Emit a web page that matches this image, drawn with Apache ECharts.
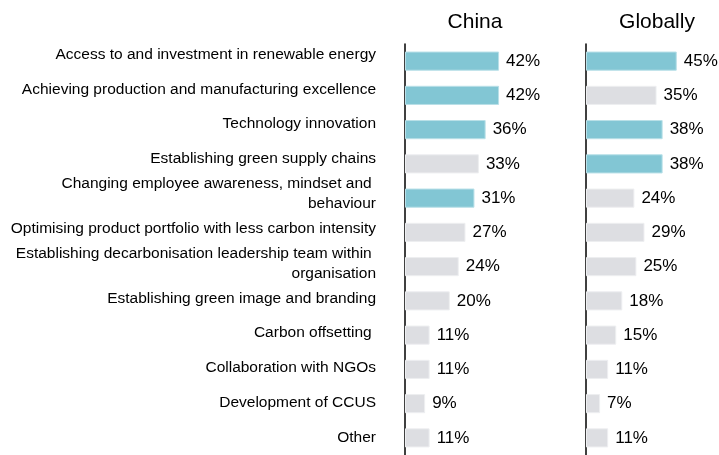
<!DOCTYPE html>
<html lang="en">
<head>
    <meta charset="UTF-8">
    <title>Decarbonisation levers</title>
    <script src="https://cdn.jsdelivr.net/npm/echarts@6/dist/echarts.min.js"></script>
    <style>
        html, body {margin: 0; padding: 0; background: #fff;}
        #chart {width: 719px; height: 455px;}
    </style>
</head>
<body>
<div id="chart"></div>
<script>
    // categories, top to bottom
    const categories = [
        'Access to and investment in renewable energy',
        'Achieving production and manufacturing excellence',
        'Technology innovation',
        'Establishing green supply chains',
        'Changing employee awareness, mindset and \nbehaviour',
        'Optimising product portfolio with less carbon intensity',
        'Establishing decarbonisation leadership team within \norganisation',
        'Establishing green image and branding',
        'Carbon offsetting ',
        'Collaboration with NGOs',
        'Development of CCUS',
        'Other'
    ]
    const chinaValues = [42, 42, 36, 33, 31, 27, 24, 20, 11, 11, 9, 11]
    const globalValues = [45, 35, 38, 38, 24, 29, 25, 18, 15, 11, 7, 11]
    // which rows are highlighted in each panel
    const chinaHighlight = [0, 1, 2, 4]
    const globalHighlight = [0, 2, 3]

    const TEAL = '#82c6d4'
    const GREY = '#dddee2'

    function toBars(values, highlight) {
        return values.map((v, i) => ({
            value: v,
            itemStyle: {
                color: highlight.includes(i) ? TEAL : GREY,
                borderColor: highlight.includes(i) ? '#b9e0e8' : '#eeeff1',
                borderWidth: 1
            }
        }))
    }

    const font = 'Liberation Sans, Arial, sans-serif'

    const valueAxis = (idx, max) => ({
        type: 'value', gridIndex: idx, min: 0, max: max,
        show: false
    })
    const catAxis = (idx) => ({
        type: 'category', gridIndex: idx, data: categories, inverse: true,
        axisLine: {show: true, lineStyle: {color: '#000', width: 1.5}},
        axisTick: {show: false},
        axisLabel: {show: false}
    })

    const chart = echarts.init(document.getElementById('chart'), null, {renderer: 'canvas'})
    const option = {
        animation: false,
        textStyle: {fontFamily: font},
        graphic: [
            {type: 'text', x: 475, y: 22, style: {text: 'China', fill: '#000', font: '21px ' + font, textAlign: 'center', textVerticalAlign: 'middle'}},
            {type: 'text', x: 657, y: 22, style: {text: 'Globally', fill: '#000', font: '21px ' + font, textAlign: 'center', textVerticalAlign: 'middle'}}
        ],
        grid: [
            {left: 376, top: 37, width: 10, height: 426},
            {left: 405, top: 44, width: 168, height: 411},
            {left: 586, top: 44, width: 121, height: 411}
        ],
        xAxis: [
            valueAxis(0, 100),
            valueAxis(1, 75),
            valueAxis(2, 60)
        ],
        yAxis: [
            {
                type: 'category', gridIndex: 0, data: categories, inverse: true,
                axisLine: {show: false},
                axisTick: {show: false},
                axisLabel: {
                    margin: 0, color: '#000', fontSize: 15.5, fontFamily: font,
                    lineHeight: 20, align: 'right', interval: 0
                }
            },
            catAxis(1),
            catAxis(2)
        ],
        series: [
            {
                name: 'China', type: 'bar', xAxisIndex: 1, yAxisIndex: 1,
                barWidth: '56%',
                data: toBars(chinaValues, chinaHighlight),
                label: {show: true, position: 'right', distance: 7, formatter: '{c}%', color: '#000', fontSize: 17, fontFamily: font}
            },
            {
                name: 'Globally', type: 'bar', xAxisIndex: 2, yAxisIndex: 2,
                barWidth: '56%',
                data: toBars(globalValues, globalHighlight),
                label: {show: true, position: 'right', distance: 7, formatter: '{c}%', color: '#000', fontSize: 17, fontFamily: font}
            }
        ]
    }
    chart.setOption(option)
</script>
</body>
</html>
